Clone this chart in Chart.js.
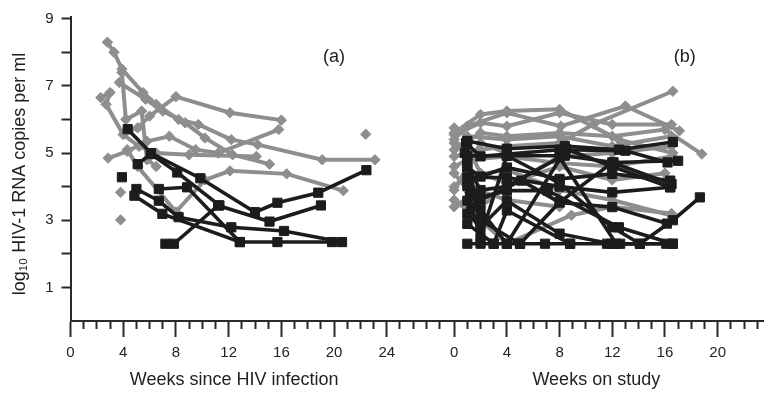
<!DOCTYPE html>
<html>
<head>
<meta charset="utf-8">
<script src="https://cdn.jsdelivr.net/npm/chart.js@4/dist/chart.umd.min.js"></script>
<style>
  html, body { margin: 0; padding: 0; background: #fff; }
  #wrap { width: 771px; height: 395px; }
</style>
</head>
<body>
<div id="wrap"><canvas id="chart" width="771" height="395"></canvas></div>
<script>
// panel (a): [weeks since infection, log10 copies/ml]
const aGray = [
  [[2.8, 8.3], [3.3, 8.0], [3.9, 7.5], [5.5, 6.8], [6.5, 6.45], [8.2, 6.0], [9.7, 5.85], [12.2, 5.4], [14.2, 5.25], [19.1, 4.8], [23.1, 4.8]],
  [[3.7, 7.1], [5.7, 6.6], [7.0, 6.25], [8.7, 5.9], [10.2, 5.45], [12.3, 4.95], [15.1, 4.67]],
  [[4.1, 5.6], [5.1, 5.75], [6.0, 6.1], [8.0, 6.68], [12.1, 6.2], [16.0, 5.98]],
  [[2.3, 6.65], [3.0, 6.8], [2.7, 6.45], [4.0, 5.55], [5.2, 5.2], [6.5, 5.0], [9.0, 4.95], [14.1, 4.9]],
  [[2.85, 4.85], [4.3, 5.05], [5.8, 5.35], [7.5, 5.5], [9.5, 5.1], [11.2, 5.0], [15.8, 5.7]],
  [[4.3, 5.1], [5.1, 4.6], [8.0, 3.25], [10.2, 4.2], [12.1, 4.47], [16.4, 4.38], [20.7, 3.88]],
  [[3.9, 7.4], [4.2, 6.0], [5.4, 6.25], [5.8, 4.8], [6.5, 4.6]],
  [[3.8, 3.83]],
  [[3.8, 3.01]],
  [[22.4, 5.56]],
  [[26.0, 5.12]]
];
const aBlack = [
  [[4.34, 5.71], [6.1, 5.0], [9.85, 4.25], [14.0, 3.24], [15.7, 3.52], [18.8, 3.82], [22.45, 4.49]],
  [[5.1, 4.67], [6.1, 4.97], [8.1, 4.42], [11.3, 3.44]],
  [[3.9, 4.28]],
  [[5.0, 3.93], [6.7, 3.58], [8.2, 3.09], [12.2, 2.79], [16.2, 2.68], [20.6, 2.35]],
  [[4.85, 3.73], [6.97, 3.19], [12.85, 2.35], [15.7, 2.35], [19.85, 2.35]],
  [[6.7, 3.93], [8.85, 3.98], [12.85, 2.35]],
  [[7.2, 2.3], [7.85, 2.3], [11.2, 3.44], [15.1, 2.96], [19.0, 3.44]]
];

// panel (b): [weeks on study, log10 copies/ml]
const bGray = [
  [[0, 5.6], [2, 6.15], [4, 6.25], [8, 6.3], [12.5, 5.4], [16.6, 5.0]],
  [[0, 4.9], [2, 5.1], [4, 5.2], [8, 5.3], [10.6, 5.86], [16.6, 6.84]],
  [[0, 5.4], [1, 5.8], [4, 6.2], [8.1, 5.8], [13, 6.4], [17.1, 5.66]],
  [[0, 5.1], [2, 5.6], [4, 5.5], [8, 5.6], [12, 5.5], [16, 5.7], [18.8, 4.97]],
  [[0, 5.75], [1, 5.5], [4, 5.4], [8, 5.5], [12, 5.2], [16.5, 5.5]],
  [[0, 4.6], [1, 4.8], [4, 4.9], [8, 4.7], [12, 4.6], [16.5, 4.9]],
  [[0, 4.0], [1, 4.3], [4, 4.5], [8, 3.9], [12, 3.6], [16.5, 3.14]],
  [[0, 3.6], [2, 3.0], [4, 2.3], [8.9, 3.15], [12, 3.4], [16.5, 3.2]],
  [[0, 3.4], [1.9, 3.88], [4, 3.6], [8, 3.4]],
  [[0, 5.3], [1, 5.2], [2, 4.4], [4, 4.1], [8, 4.6], [12, 4.2], [16, 4.4]],
  [[0, 4.4], [1, 3.9], [2, 3.4], [4, 4.0], [8, 4.9], [12, 5.0], [16.5, 5.2]],
  [[0, 5.55], [2, 5.9], [4, 5.8], [8, 6.2], [12, 5.85], [16.5, 5.85]],
  [[0, 3.9], [1, 4.6], [2, 5.3], [4, 5.0]]
];
const bBlack = [
  [[1, 5.36], [4, 5.13], [8.4, 5.21], [12.5, 5.1], [16.6, 5.33]],
  [[0.9, 5.3], [2, 4.9], [8, 5.1], [13, 5.07], [16.2, 4.72]],
  [[1, 4.92], [4, 4.92], [8.4, 4.92], [12.1, 4.72], [17, 4.77]],
  [[1, 4.57], [2, 4.3], [4, 4.57], [8, 4.23], [12, 4.38], [16.4, 4.18]],
  [[1, 4.27], [4, 4.27], [8, 4.0], [12, 3.83], [16.4, 3.98]],
  [[1, 4.03], [2, 3.6], [5.1, 4.18], [8, 3.53], [12, 3.39], [16.15, 2.9]],
  [[1, 3.58], [4, 3.88], [7.1, 3.88], [12.5, 2.79], [16.6, 2.3]],
  [[1, 3.19], [2, 2.8], [4, 3.58], [8, 2.6], [11.9, 2.3]],
  [[1, 2.89], [3, 2.3], [4, 3.29], [8.8, 2.3], [12.6, 2.3], [16.6, 2.3]],
  [[1, 2.3], [2, 2.3], [3, 2.3], [4, 2.3], [5, 2.3], [6.9, 2.3], [8.8, 2.3]],
  [[0.8, 5.0], [1, 4.6], [2, 3.9], [4, 4.0], [8, 4.87], [12.3, 2.3], [16.1, 2.3]],
  [[1.2, 3.8], [2, 3.3], [4, 2.3], [8.5, 5.12], [12, 4.6], [16.4, 3.98]],
  [[11.6, 2.3], [14.1, 2.3], [16.6, 3.0], [18.65, 3.68]],
  [[1, 4.8], [2, 3.0], [5, 2.3], [8, 3.53], [12, 4.72], [16.5, 4.08]],
  [[1.3, 3.4], [2, 2.5], [4, 4.92], [8, 4.1], [12, 2.79], [14.1, 2.3]]
];

const yTicks = [1, 2, 3, 4, 5, 6, 7, 8, 9];
const yTickLabels = ['1', '3', '5', '7', '9'];
const aTicks = Array.from({ length: 25 }, (_, i) => i);
const aTickLabels = ['0', '4', '8', '12', '16', '20', '24'];
const gapTicks = [25, 26, 27];
const bTicks = [-1.11].concat(Array.from({ length: 24 }, (_, i) => i));
const bTickLabels = ['0', '4', '8', '12', '16', '20'];

const FONT = '"Liberation Sans", Arial, Helvetica, sans-serif';
const AXIS = '#2a2a2a';
const TEXT = '#222';
const GRAY = '#8e8e8e';
const BLACK = '#1c1c1c';

function series(list, axis, color, style, radius, width, order) {
  return list.map(d => ({
    data: d,
    xAxisID: axis,
    yAxisID: 'y',
    borderColor: color,
    backgroundColor: color,
    pointBackgroundColor: color,
    pointBorderColor: color,
    pointBorderWidth: 1,
    pointStyle: style,
    pointRadius: radius,
    borderWidth: width,
    tension: 0,
    fill: false,
    order: order
  }));
}

function xScale(weight, min, max, ticks, labels, title) {
  return {
    type: 'linear',
    position: 'bottom',
    stack: 'weeks',
    stackWeight: weight,
    min: min,
    max: max,
    afterBuildTicks: s => { s.ticks = ticks.map(v => ({ value: v })); },
    afterFit: s => { s.height = 74; s.paddingLeft = 0; s.paddingRight = 0; },
    ticks: {
      autoSkip: false,
      maxRotation: 0,
      padding: 7,
      color: TEXT,
      font: { family: FONT, size: 15 },
      callback: v => labels.includes(String(v)) ? String(v) : ''
    },
    grid: {
      drawOnChartArea: false,
      tickLength: 16,
      tickWidth: 2,
      tickColor: AXIS,
      tickBorderDash: c => (!c.tick || labels.includes(String(c.tick.value))) ? [] : [7, 40]
    },
    border: { color: AXIS, width: 2 },
    title: {
      display: !!title,
      text: title || '',
      color: TEXT,
      font: { family: FONT, size: 18 },
      padding: { top: 0, bottom: 4 }
    }
  };
}

const panelLabels = {
  id: 'panelLabels',
  afterDraw(chart) {
    const { ctx, scales } = chart;
    ctx.save();
    ctx.font = '18px ' + FONT;
    ctx.fillStyle = TEXT;
    ctx.textAlign = 'center';
    ctx.textBaseline = 'middle';
    ctx.fillText('(a)', scales.xa.getPixelForValue(20), scales.y.getPixelForValue(7.85));
    ctx.fillText('(b)', scales.xb.getPixelForValue(17.5), scales.y.getPixelForValue(7.85));
    ctx.restore();
  }
};

new Chart(document.getElementById('chart'), {
  type: 'line',
  data: {
    datasets: [
      ...series(aBlack, 'xa', BLACK, 'rect', 6.5, 3.6, 1),
      ...series(bBlack, 'xb', BLACK, 'rect', 6.5, 3.6, 1),
      ...series(aGray, 'xa', GRAY, 'rectRot', 5.2, 4, 2),
      ...series(bGray, 'xb', GRAY, 'rectRot', 5.2, 4, 2)
    ]
  },
  options: {
    responsive: false,
    devicePixelRatio: 1,
    animation: false,
    layout: { padding: { top: 15.6, right: 0, bottom: 0, left: 0 } },
    plugins: { legend: { display: false }, tooltip: { enabled: false } },
    scales: {
      y: {
        type: 'linear',
        position: 'left',
        min: 0,
        max: 9.05,
        afterBuildTicks: s => { s.ticks = yTicks.map(v => ({ value: v })); },
        afterFit: s => { s.width = 70.5; },
        ticks: {
          autoSkip: false,
          padding: 8,
          color: TEXT,
          font: { family: FONT, size: 15 },
          callback: v => yTickLabels.includes(String(v)) ? String(v) : ''
        },
        grid: { drawOnChartArea: false, tickLength: 9, tickWidth: 2, tickColor: AXIS },
        border: { color: AXIS, width: 2 },
        title: {
          display: true,
          text: 'log\u2081\u2080 HIV-1 RNA copies per ml  ',
          color: TEXT,
          font: { family: FONT, size: 18 },
          padding: { top: 9, bottom: 0 }
        }
      },
      xa: xScale(330.8, 0, 24.83, aTicks, aTickLabels, 'Weeks since HIV infection'),
      xg: xScale(31.7, 24.83, 27.21, gapTicks, [], ''),
      xb: xScale(338, -1.9, 23.48, bTicks, bTickLabels, 'Weeks on study')
    }
  },
  plugins: [panelLabels]
});
</script>
</body>
</html>
